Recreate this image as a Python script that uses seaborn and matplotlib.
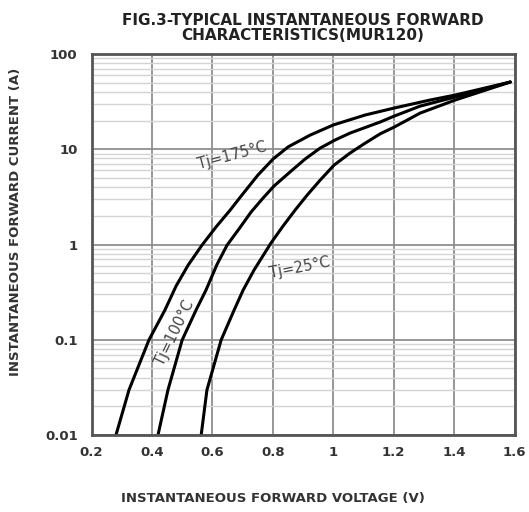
import matplotlib
matplotlib.use('Agg')
import matplotlib.pyplot as plt
import seaborn as sns
from matplotlib.ticker import LogLocator, FixedLocator, NullFormatter

# values
v_175 = [0.281, 0.324, 0.390, 0.443, 0.480, 0.520, 0.566, 0.612, 0.659, 0.698, 0.751,
         0.801, 0.851, 0.924, 1.0, 1.106, 1.202, 1.321, 1.404, 1.586]
i_175 = [0.01, 0.0297, 0.0994, 0.205, 0.367, 0.609, 0.988, 1.527, 2.30, 3.31, 5.37,
         7.90, 10.6, 14.1, 17.98, 22.9, 27.1, 32.9, 37.1, 50.8]
v_100 = [0.420, 0.453, 0.500, 0.546, 0.579, 0.616, 0.649, 0.688, 0.728, 0.768, 0.804,
         0.857, 0.907, 0.957, 1.006, 1.056, 1.155, 1.202, 1.288, 1.404, 1.586]
i_100 = [0.01, 0.0297, 0.0994, 0.205, 0.333, 0.624, 0.988, 1.455, 2.19, 3.08, 4.11,
         5.77, 7.90, 10.3, 12.5, 14.8, 19.3, 22.3, 28.4, 35.4, 50.8]
v_25 = [0.563, 0.582, 0.629, 0.672, 0.702, 0.738, 0.794, 0.834, 0.874, 0.914, 0.957,
        1.003, 1.056, 1.106, 1.155, 1.202, 1.288, 1.404, 1.586]
i_25 = [0.01, 0.0297, 0.0994, 0.205, 0.333, 0.540, 1.037, 1.564, 2.30, 3.31, 4.75,
        6.83, 9.14, 11.6, 14.5, 17.1, 24.0, 32.9, 50.8]

x_ticks = [0.2, 0.4, 0.6, 0.8, 1.0, 1.2, 1.4, 1.6]
x_labels = ['0.2', '0.4', '0.6', '0.8', '1', '1.2', '1.4', '1.6']
y_ticks = [0.01, 0.1, 1, 10, 100]
y_labels = ['0.01', '0.1', '1', '10', '100']

sns.set_style('white')
plt.rcParams['font.family'] = ['DejaVu Sans']

fig = plt.figure(figsize=(5.29, 5.12), dpi=100)
ax = fig.add_axes([0.173, 0.1504, 0.7996, 0.7441])

for v, i in [(v_175, i_175), (v_100, i_100), (v_25, i_25)]:
    sns.lineplot(x=v, y=i, ax=ax, color='black', linewidth=2.2, sort=False,
                 estimator=None, solid_joinstyle='round', solid_capstyle='round')

ax.set_yscale('log')
ax.set_xlim(0.2, 1.6)
ax.set_ylim(0.01, 100)
ax.xaxis.set_major_locator(FixedLocator(x_ticks))
ax.set_xticklabels(x_labels)
ax.yaxis.set_major_locator(FixedLocator(y_ticks))
ax.set_yticklabels(y_labels)
ax.yaxis.set_minor_locator(LogLocator(base=10, subs=range(2, 10)))
ax.yaxis.set_minor_formatter(NullFormatter())

ax.grid(which='major', axis='both', color='#8f8f8f', linewidth=1.3)
ax.grid(which='minor', axis='y', color='#d4d4d4', linewidth=1.0)
ax.set_axisbelow(True)
for s in ax.spines.values():
    s.set_color('#555555')
    s.set_linewidth(2)

ax.tick_params(axis='both', which='both', length=0)
ax.tick_params(axis='x', pad=8)
ax.tick_params(axis='y', pad=10)
for lab in ax.get_xticklabels() + ax.get_yticklabels():
    lab.set_fontsize(9.5)
    lab.set_fontweight('bold')
    lab.set_color('#333333')

ax.set_title('FIG.3-TYPICAL INSTANTANEOUS FORWARD\nCHARACTERISTICS(MUR120)',
             fontsize=11, fontweight='bold', color='#222222', pad=10, linespacing=1.0)
ax.set_xlabel('INSTANTANEOUS FORWARD VOLTAGE (V)', fontsize=9.5, fontweight='bold',
              color='#333333')
ax.set_ylabel('INSTANTANEOUS FORWARD CURRENT (A)', fontsize=9.5, fontweight='bold',
              color='#333333')
ax.xaxis.set_label_coords(0.43, -0.15)
ax.yaxis.set_label_coords(-0.164, 0.56)

ax.text(0.665, 8.5, 'Tj=175°C', fontsize=10.5, rotation=15, color='#444444',
        ha='center', va='center')
ax.text(0.476, 0.118, 'Tj=100°C', fontsize=10.5, rotation=64, color='#444444',
        ha='center', va='center')
ax.text(0.89, 0.566, 'Tj=25°C', fontsize=10.5, rotation=11, color='#444444',
        ha='center', va='center')

fig.savefig('out.png', dpi=100)
